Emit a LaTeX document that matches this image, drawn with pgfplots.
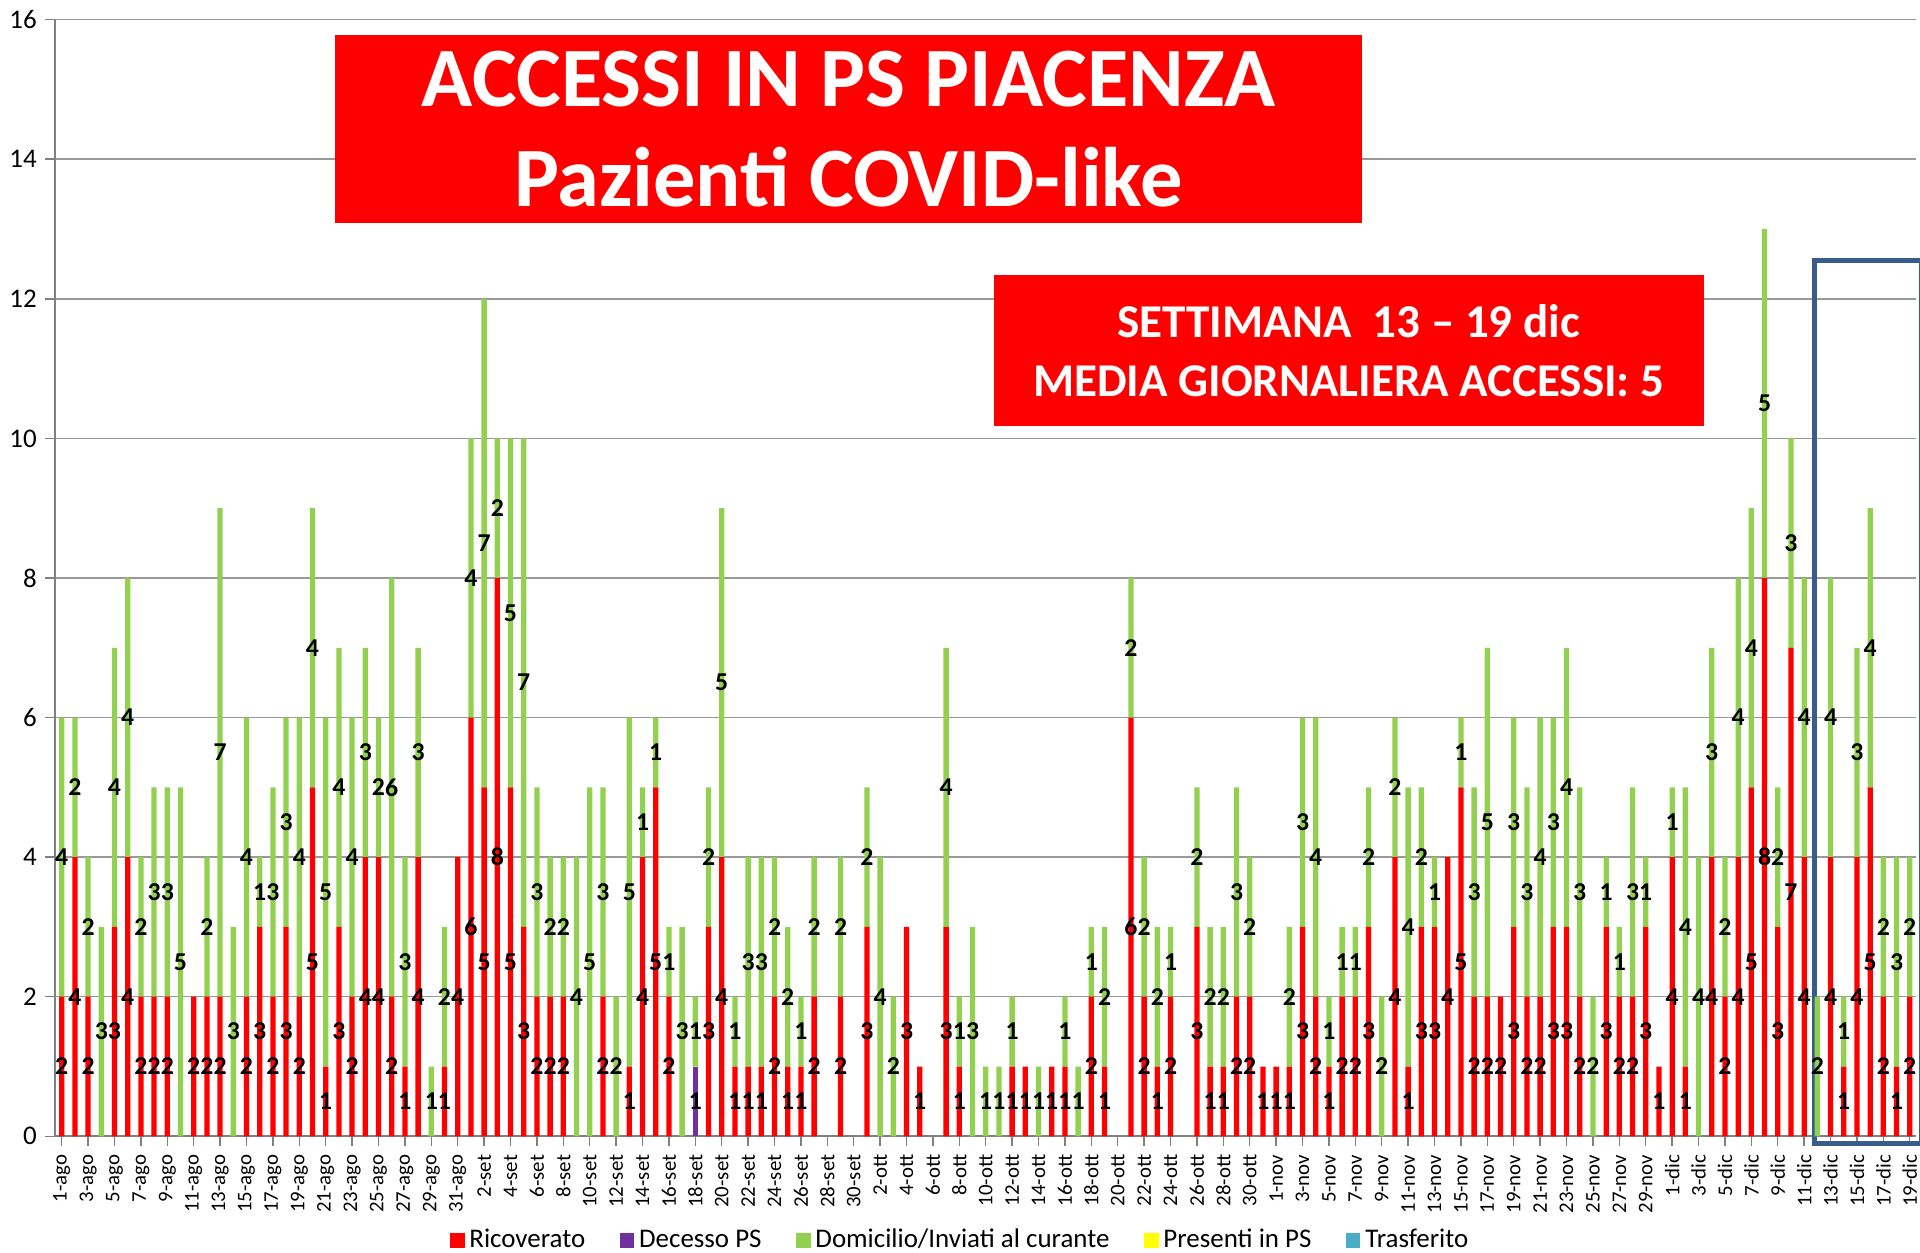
\documentclass[border=0pt]{standalone}
\usepackage{pgfplots}
\pgfplotsset{compat=1.18}
\usepackage{pgfplotstable}
\usepackage{fontspec}
\setmainfont{Carlito}
\definecolor{cRic}{RGB}{255,0,0}
\definecolor{cDec}{RGB}{112,48,160}
\definecolor{cDom}{RGB}{146,208,80}
\definecolor{cPre}{RGB}{255,255,0}
\definecolor{cTra}{RGB}{75,172,198}
\definecolor{cBox}{RGB}{56,93,138}
\pgfplotstableread{
x r d g
0 2 0 4
1 4 0 2
2 2 0 2
3 0 0 3
4 3 0 4
5 4 0 4
6 2 0 2
7 2 0 3
8 2 0 3
9 0 0 5
10 2 0 0
11 2 0 2
12 2 0 7
13 0 0 3
14 2 0 4
15 3 0 1
16 2 0 3
17 3 0 3
18 2 0 4
19 5 0 4
20 1 0 5
21 3 0 4
22 2 0 4
23 4 0 3
24 4 0 2
25 2 0 6
26 1 0 3
27 4 0 3
28 0 0 1
29 1 0 2
30 4 0 0
31 6 0 4
32 5 0 7
33 8 0 2
34 5 0 5
35 3 0 7
36 2 0 3
37 2 0 2
38 2 0 2
39 0 0 4
40 0 0 5
41 2 0 3
42 0 0 2
43 1 0 5
44 4 0 1
45 5 0 1
46 2 0 1
47 0 0 3
48 0 1 1
49 3 0 2
50 4 0 5
51 1 0 1
52 1 0 3
53 1 0 3
54 2 0 2
55 1 0 2
56 1 0 1
57 2 0 2
58 0 0 0
59 2 0 2
60 0 0 0
61 3 0 2
62 0 0 4
63 0 0 2
64 3 0 0
65 1 0 0
66 0 0 0
67 3 0 4
68 1 0 1
69 0 0 3
70 0 0 1
71 0 0 1
72 1 0 1
73 1 0 0
74 0 0 1
75 1 0 0
76 1 0 1
77 0 0 1
78 2 0 1
79 1 0 2
80 0 0 0
81 6 0 2
82 2 0 2
83 1 0 2
84 2 0 1
85 0 0 0
86 3 0 2
87 1 0 2
88 1 0 2
89 2 0 3
90 2 0 2
91 1 0 0
92 1 0 0
93 1 0 2
94 3 0 3
95 2 0 4
96 1 0 1
97 2 0 1
98 2 0 1
99 3 0 2
100 0 0 2
101 4 0 2
102 1 0 4
103 3 0 2
104 3 0 1
105 4 0 0
106 5 0 1
107 2 0 3
108 2 0 5
109 2 0 0
110 3 0 3
111 2 0 3
112 2 0 4
113 3 0 3
114 3 0 4
115 2 0 3
116 0 0 2
117 3 0 1
118 2 0 1
119 2 0 3
120 3 0 1
121 1 0 0
122 4 0 1
123 1 0 4
124 0 0 4
125 4 0 3
126 2 0 2
127 4 0 4
128 5 0 4
129 8 0 5
130 3 0 2
131 7 0 3
132 4 0 4
133 0 0 2
134 4 0 4
135 1 0 1
136 4 0 3
137 5 0 4
138 2 0 2
139 1 0 3
140 2 0 2
}\data
\begin{document}
\begin{tikzpicture}
\begin{axis}[
  name=main,
  scale only axis, width=760pt, height=456pt,
  ybar stacked, bar width=0.4,
  xmin=-0.5, xmax=140.5, ymin=0, ymax=16,
  ytick={0,2,...,16},
  xtick={0,2,...,140},
  xticklabels={1-ago,3-ago,5-ago,7-ago,9-ago,11-ago,13-ago,15-ago,17-ago,19-ago,21-ago,23-ago,25-ago,27-ago,29-ago,31-ago,
    2-set,4-set,6-set,8-set,10-set,12-set,14-set,16-set,18-set,20-set,22-set,24-set,26-set,28-set,30-set,
    2-ott,4-ott,6-ott,8-ott,10-ott,12-ott,14-ott,16-ott,18-ott,20-ott,22-ott,24-ott,26-ott,28-ott,30-ott,
    1-nov,3-nov,5-nov,7-nov,9-nov,11-nov,13-nov,15-nov,17-nov,19-nov,21-nov,23-nov,25-nov,27-nov,29-nov,
    1-dic,3-dic,5-dic,7-dic,9-dic,11-dic,13-dic,15-dic,17-dic,19-dic},
  xticklabel style={rotate=90, anchor=east, font=\fontsize{8.5}{9}\selectfont},
  yticklabel style={font=\fontsize{11}{12}\selectfont},
  /pgf/number format/assume math mode=true,
  axis x line*=bottom, axis y line*=left,
  axis line style={gray, line width=0.8pt},
  tick style={gray, line width=0.6pt},
  tick align=outside, major tick length=4pt,
  ymajorgrids, grid style={gray!80, line width=0.6pt},
  clip=false,
  nodes near coords={\pgfmathprintnumber{\pgfplotspointmeta}},
  point meta=rawy,
  every node near coord/.append style={
     check for zero/.code={\pgfmathfloatifflags{\pgfplotspointmeta}{0}{\pgfkeys{/tikz/coordinate}}{}},
     check for zero, anchor=center,
     font=\bfseries\fontsize{10.5}{11}\selectfont, text=black, inner sep=0pt},
  legend style={at={(0.487,-0.093)}, anchor=center, legend columns=-1, draw=none,
     font=\fontsize{11}{12}\selectfont, inner sep=1pt,
     /tikz/every even column/.append style={column sep=12pt}},
  legend image code/.code={\path[#1] (0pt,-3pt) rectangle (6pt,3pt);},
]
\addplot[fill=cRic, draw=none] table[x=x,y=r] {\data};
\addlegendentry{Ricoverato}
\addplot[fill=cDec, draw=none] table[x=x,y=d] {\data};
\addlegendentry{Decesso PS}
\addplot[fill=cDom, draw=none] table[x=x,y=g] {\data};
\addlegendentry{Domicilio/Inviati al curante}
\addlegendimage{fill=cPre, draw=none}
\addlegendentry{Presenti in PS}
\addlegendimage{fill=cTra, draw=none}
\addlegendentry{Trasferito}
\node[fill=red, text=white, inner sep=0pt, minimum width=419.5pt, minimum height=76.5pt,
      font=\bfseries\fontsize{34.5}{41}\selectfont, align=center] at (axis cs:59.6,14.43)
      {ACCESSI IN PS PIACENZA\\Pazienti COVID-like};
\node[fill=red, text=white, inner sep=0pt, minimum width=290pt, minimum height=61.5pt,
      font=\bfseries\fontsize{19.2}{24}\selectfont, align=center] at (axis cs:97.5,11.255)
      {SETTIMANA\ \ 13 – 19 dic\\MEDIA GIORNALIERA ACCESSI: 5};
\draw[cBox, line width=2pt] (axis cs:132.8,-0.1) rectangle (axis cs:140.9,12.55);
\end{axis}
\pgfresetboundingbox
\path (main.south west) ++(-22.5pt,-47.5pt) coordinate (bbA);
\path (main.north east) ++(1.5pt,8pt) coordinate (bbB);
\useasboundingbox (bbA) rectangle (bbB);
\end{tikzpicture}
\end{document}
